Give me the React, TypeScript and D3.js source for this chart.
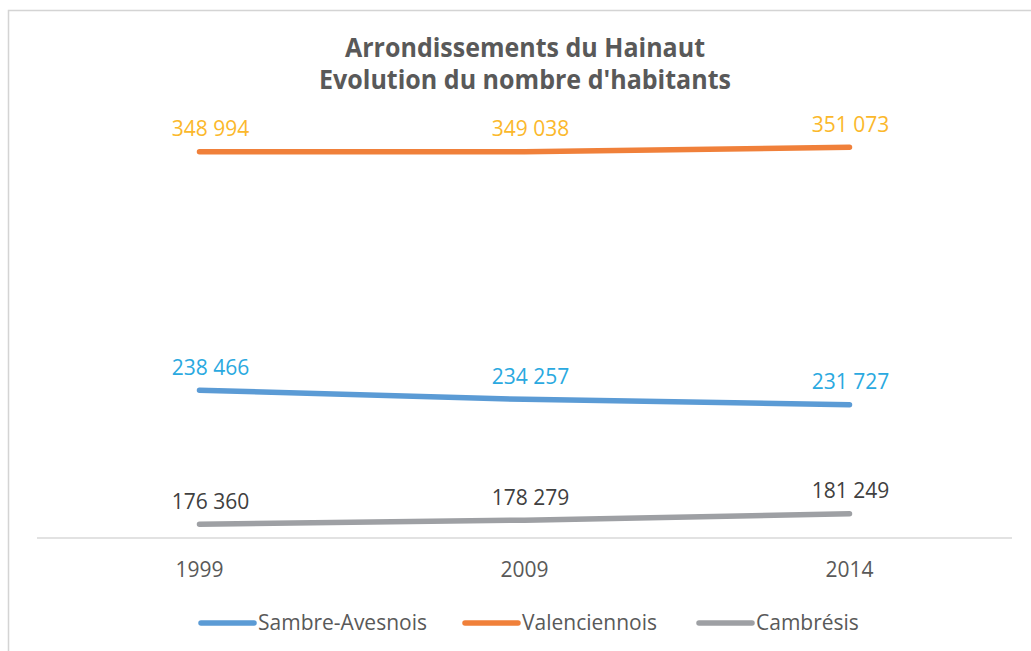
import React from 'react';
import * as d3 from 'd3';

const categories = ['1999', '2009', '2014'];
const sambreAvesnois = [238466, 234257, 231727];
const valenciennois = [348994, 349038, 351073];
const cambresis = [176360, 178279, 181249];
const seriesNames = ['Sambre-Avesnois', 'Valenciennois', 'Cambrésis'];
const titleLines = ['Arrondissements du Hainaut', "Evolution du nombre d'habitants"];

const W = 1031;
const H = 651;
const lineColors = ['#5B9BD5', '#F0803A', '#9EA0A4'];
const labelColors = ['#2AA9E0', '#FBB82B', '#404040'];
const labelDx = [11, 6, 1];
const legendX = [199, 463, 697];
const titleWidths = [360, 412];
const FONT = "'Open Sans', 'Noto Sans', sans-serif";

export default function App() {
  const x = d3.scalePoint<string>().domain(categories).range([37, 1012]).padding(0.5);
  const y = d3.scaleLinear().domain([170000, 360000]).range([538, 128]);
  const series = [sambreAvesnois, valenciennois, cambresis];
  const line = d3
    .line<number>()
    .x((_, i) => x(categories[i]) as number)
    .y((d) => y(d));
  const fmt = (v: number) => d3.format(',')(v).replace(/,/g, ' ');

  return (
    <svg
      width={W}
      height={H}
      style={{ position: 'absolute', left: 0, top: 0, background: '#fff' }}
      fontFamily={FONT}
    >
      <rect x={8.5} y={10.5} width={W + 20} height={H + 20} fill="#fff" stroke="#D4D4D4" strokeWidth={1.5} />
      {titleLines.map((t, i) => (
        <text
          key={t}
          x={525}
          y={57 + i * 32}
          textAnchor="middle"
          fontSize={27}
          fontWeight={700}
          fill="#595959"
          textLength={titleWidths[i]}
          lengthAdjust="spacingAndGlyphs"
        >
          {t}
        </text>
      ))}
      <line x1={37} x2={1012} y1={538} y2={538} stroke="#D9D9D9" strokeWidth={1.5} />
      {categories.map((c) => (
        <text key={c} x={x(c)} y={577} textAnchor="middle" fontSize={21} fill="#595959">
          {c}
        </text>
      ))}
      {series.map((s, si) => (
        <path
          key={seriesNames[si]}
          d={line(s) || ''}
          fill="none"
          stroke={lineColors[si]}
          strokeWidth={5.5}
          strokeLinecap="round"
          strokeLinejoin="round"
        />
      ))}
      {series.map((s, si) =>
        s.map((v, i) => (
          <text
            key={seriesNames[si] + i}
            x={(x(categories[i]) as number) + labelDx[i]}
            y={y(v) - 15.5}
            textAnchor="middle"
            fontSize={21}
            fill={labelColors[si]}
          >
            {fmt(v)}
          </text>
        ))
      )}
      {seriesNames.map((n, i) => (
        <g key={n}>
          <line
            x1={legendX[i] + 2}
            x2={legendX[i] + 55}
            y1={623}
            y2={623}
            stroke={lineColors[i]}
            strokeWidth={5.5}
            strokeLinecap="round"
          />
          <text x={legendX[i] + 59} y={630} fontSize={21} fill="#595959">
            {n}
          </text>
        </g>
      ))}
    </svg>
  );
}
